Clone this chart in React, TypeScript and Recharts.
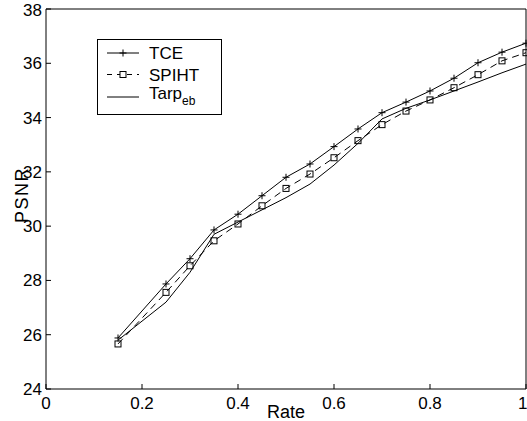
import { LineChart, Line, XAxis, YAxis, Legend } from 'recharts';

const rates = [0.15, 0.25, 0.3, 0.35, 0.4, 0.45, 0.5, 0.55, 0.6, 0.65, 0.7, 0.75, 0.8, 0.85, 0.9, 0.95, 1.0];
const tce = [25.88, 27.87, 28.8, 29.86, 30.44, 31.12, 31.8, 32.29, 32.93, 33.58, 34.18, 34.57, 34.98, 35.45, 36.02, 36.41, 36.74];
const spiht = [25.66, 27.56, 28.54, 29.46, 30.08, 30.75, 31.39, 31.92, 32.52, 33.15, 33.74, 34.24, 34.65, 35.1, 35.58, 36.09, 36.39];
const tarp = [25.8, 27.2, 28.3, 29.7, 30.15, 30.6, 31.05, 31.55, 32.25, 33.05, 33.95, 34.34, 34.65, 34.98, 35.31, 35.65, 35.97];

const xTicks = [0, 0.2, 0.4, 0.6, 0.8, 1];
const yTicks = [24, 26, 28, 30, 32, 34, 36, 38];

const data = rates.map((rate, i) => ({
  rate,
  tce: tce[i],
  spiht: spiht[i],
  tarp: tarp[i],
}));

const FONT = '"Liberation Sans", Arial, Helvetica, sans-serif';
const tickStyle = { fontSize: 17, fill: '#000', fontFamily: FONT };
const axisStroke = { stroke: '#000', strokeWidth: 1 };

function PlusDot(props: any) {
  const { cx, cy, index } = props;
  if (cx == null || cy == null) return <g key={`p${index}`} />;
  return (
    <path
      key={`p${index}`}
      d={`M${cx - 3.5},${cy}h7M${cx},${cy - 3.5}v7`}
      stroke="#000"
      strokeWidth={1}
      fill="none"
    />
  );
}

function SquareDot(props: any) {
  const { cx, cy, index } = props;
  if (cx == null || cy == null) return <g key={`s${index}`} />;
  return (
    <rect key={`s${index}`} x={cx - 3} y={cy - 3} width={6} height={6} fill="none" stroke="#000" strokeWidth={1} />
  );
}

function LegendBox() {
  return (
    <svg width={126} height={77} style={{ display: 'block', fontFamily: FONT }}>
      <rect x={0.5} y={0.5} width={124} height={75} fill="#fff" stroke="#000" />
      <line x1={10} y1={14} x2={42} y2={14} stroke="#000" />
      <path d="M22.5,14h7M26,10.5v7" stroke="#000" fill="none" />
      <text x={52} y={19.5} fontSize={17} fill="#000">TCE</text>
      <line x1={10} y1={35.5} x2={42} y2={35.5} stroke="#000" strokeDasharray="5 5" />
      <rect x={23} y={32.5} width={6} height={6} fill="#fff" stroke="#000" />
      <text x={52} y={41.5} fontSize={17} fill="#000">SPIHT</text>
      <line x1={10} y1={58} x2={42} y2={58} stroke="#000" />
      <text x={52} y={60} fontSize={17} fill="#000">
        Tarp<tspan fontSize={12} dy={6}>eb</tspan>
      </text>
    </svg>
  );
}

function PsnrLabel(props: any) {
  const vb = props.viewBox || { x: 0, y: 0, width: 46, height: 380 };
  const x = vb.x + 28;
  const y = vb.y + vb.height / 2 - 4;
  return (
    <text
      x={x}
      y={y}
      transform={`rotate(-90 ${x} ${y})`}
      textAnchor="middle"
      fontSize={18}
      letterSpacing={1.5}
      fill="#000"
      fontFamily={FONT}
    >
      PSNR
    </text>
  );
}

export default function App() {
  return (
    <div style={{ position: 'absolute', left: 0, top: 0, width: 527, height: 421, background: '#fff' }}>
      <LineChart width={527} height={421} data={data} margin={{ top: 8, right: 0, bottom: 0, left: 0 }}>
        <XAxis
          dataKey="rate"
          type="number"
          domain={[0, 1]}
          ticks={xTicks}
          height={32}
          tickSize={-5}
          tickMargin={13}
          tick={tickStyle}
          axisLine={axisStroke}
          tickLine={axisStroke}
          tickFormatter={(v) => String(v)}
          label={{ value: 'Rate', position: 'insideBottom', offset: 3, fontSize: 18, fill: '#000', fontFamily: FONT }}
        />
        <XAxis
          xAxisId="top"
          orientation="top"
          type="number"
          domain={[0, 1]}
          ticks={xTicks}
          height={1}
          tickSize={-5}
          tick={false}
          axisLine={axisStroke}
          tickLine={axisStroke}
        />
        <YAxis
          type="number"
          domain={[24, 38]}
          ticks={yTicks}
          width={46}
          tickSize={-5}
          tickMargin={9}
          tick={tickStyle}
          axisLine={axisStroke}
          tickLine={axisStroke}
          label={<PsnrLabel />}
        />
        <YAxis
          yAxisId="right"
          orientation="right"
          type="number"
          domain={[24, 38]}
          ticks={yTicks}
          width={1}
          tickSize={-5}
          tick={false}
          axisLine={axisStroke}
          tickLine={axisStroke}
        />
        <Legend
          layout="vertical"
          align="center"
          verticalAlign="middle"
          wrapperStyle={{ left: 97, top: 39, width: 126 }}
          content={() => <LegendBox />}
        />
        <Line
          dataKey="tarp"
          type="linear"
          stroke="#000"
          strokeWidth={1}
          dot={false}
          isAnimationActive={false}
        />
        <Line
          dataKey="spiht"
          type="linear"
          stroke="#000"
          strokeWidth={1}
          strokeDasharray="7 5"
          dot={SquareDot}
          isAnimationActive={false}
        />
        <Line
          dataKey="tce"
          type="linear"
          stroke="#000"
          strokeWidth={1}
          dot={PlusDot}
          isAnimationActive={false}
        />
      </LineChart>
    </div>
  );
}
